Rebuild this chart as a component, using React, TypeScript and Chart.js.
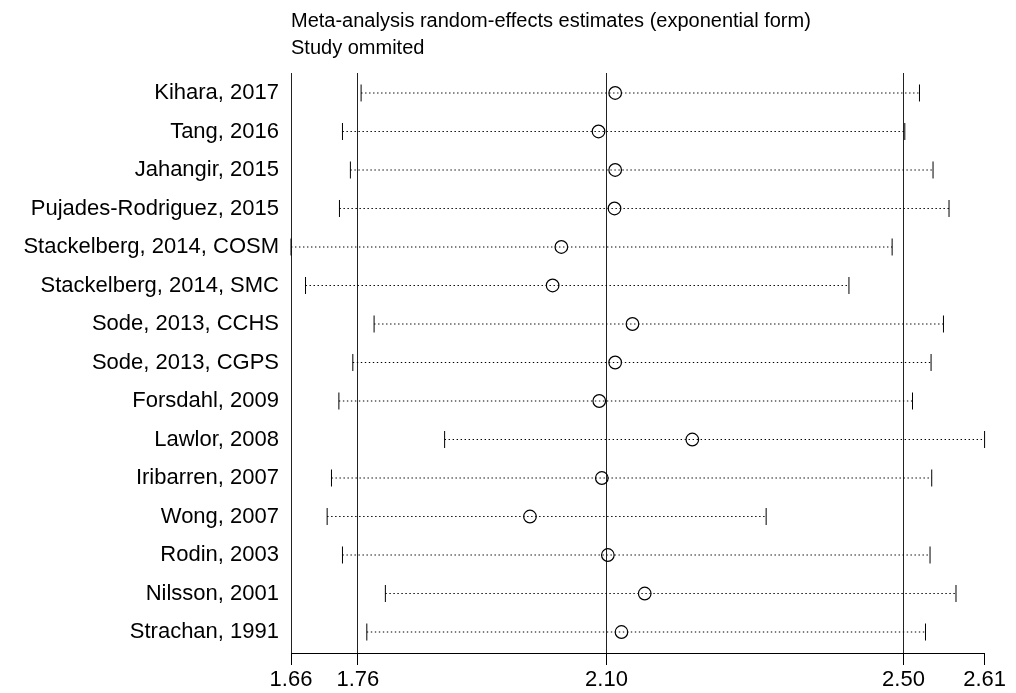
import React, { useEffect, useRef } from "react";
import { Chart, registerables } from "chart.js";

Chart.register(...registerables);

const titleLines = [
  "Meta-analysis random-effects estimates (exponential form)",
  "Study ommited",
];

const studies = [
  "Kihara, 2017",
  "Tang, 2016",
  "Jahangir, 2015",
  "Pujades-Rodriguez, 2015",
  "Stackelberg, 2014, COSM",
  "Stackelberg, 2014, SMC",
  "Sode, 2013, CCHS",
  "Sode, 2013, CGPS",
  "Forsdahl, 2009",
  "Lawlor, 2008",
  "Iribarren, 2007",
  "Wong, 2007",
  "Rodin, 2003",
  "Nilsson, 2001",
  "Strachan, 1991",
];

const estimates = [
  2.1069, 2.0842, 2.1069, 2.106, 2.0335, 2.0216, 2.1305, 2.1069, 2.0852,
  2.2121, 2.0887, 1.9907, 2.0969, 2.1472, 2.1155,
];

const lowerCI = [
  1.7604, 1.735, 1.7458, 1.7309, 1.6648, 1.6846, 1.7781, 1.7491, 1.7301,
  1.8743, 1.72, 1.7141, 1.735, 1.7935, 1.7682,
];

const upperCI = [
  2.5219, 2.5019, 2.5404, 2.5622, 2.4846, 2.4257, 2.5546, 2.5377, 2.5124,
  2.6107, 2.5386, 2.3128, 2.5363, 2.5717, 2.5301,
];

// axis ticks: min lower CI, overall lower CI, overall estimate, overall upper CI, max upper CI
const axisTicks = [1.6648, 1.7559, 2.0951, 2.5001, 2.6107];

const FONT = '"Liberation Sans", Arial, Helvetica, sans-serif';

export default function App() {
  const ref = useRef<HTMLCanvasElement | null>(null);

  useEffect(() => {
    if (!ref.current) return;

    const ciSets = studies.map((_, i) => ({
      type: "line" as const,
      data: [
        { x: lowerCI[i], y: i },
        { x: upperCI[i], y: i },
      ],
      showLine: true,
      borderColor: "#000",
      borderWidth: 1.2,
      borderDash: [1.4, 2.6],
      pointStyle: "line" as const,
      rotation: 90,
      pointRadius: 8.5,
      pointBorderColor: "#000",
      pointBorderWidth: 1,
      pointBackgroundColor: "#000",
      clip: false as any,
    }));

    const estSet = {
      type: "scatter" as const,
      data: estimates.map((v, i) => ({ x: v, y: i })),
      showLine: false,
      pointStyle: "circle" as const,
      pointRadius: 6.3,
      pointBorderWidth: 1.2,
      pointBorderColor: "#000",
      pointBackgroundColor: "rgba(0,0,0,0)",
      borderColor: "#000",
      backgroundColor: "rgba(0,0,0,0)",
      clip: false as any,
    };

    const titlePlugin = {
      id: "titleLines",
      afterDraw(chart: any) {
        const ctx = chart.ctx;
        ctx.save();
        ctx.fillStyle = "#000";
        ctx.font = `20px ${FONT}`;
        ctx.textAlign = "left";
        ctx.textBaseline = "alphabetic";
        ctx.fillText(titleLines[0], chart.chartArea.left, 19);
        ctx.fillText(titleLines[1], chart.chartArea.left, 46);
        ctx.restore();
      },
    };

    const chart = new Chart(ref.current, {
      type: "scatter",
      data: { datasets: [...ciSets, estSet] as any },
      options: {
        animation: false,
        responsive: false,
        maintainAspectRatio: false,
        layout: { padding: { top: 65, right: 21, left: 0, bottom: 0 } },
        plugins: {
          legend: { display: false },
          tooltip: { enabled: false },
          title: { display: false },
        },
        scales: {
          x: {
            type: "linear",
            min: axisTicks[0],
            max: axisTicks[axisTicks.length - 1],
            afterBuildTicks: (scale: any) => {
              scale.ticks = axisTicks.map((v) => ({ value: v }));
            },
            afterFit: (scale: any) => {
              scale.height = 40;
            },
            ticks: {
              autoSkip: false,
              maxRotation: 0,
              minRotation: 0,
              padding: 2,
              color: "#000",
              font: { family: FONT, size: 22 },
              callback: (v: any) => Number(v).toFixed(2),
            },
            grid: {
              display: true,
              drawOnChartArea: true,
              drawTicks: true,
              tickLength: 12,
              lineWidth: 1,
              color: (c: any) =>
                c.index === axisTicks.length - 1 ? "rgba(0,0,0,0)" : "#222",
              tickColor: "#000",
            },
            border: { display: true, color: "#000", width: 1 },
          },
          y: {
            type: "linear",
            reverse: true,
            min: -0.519,
            max: 14.545,
            afterBuildTicks: (scale: any) => {
              scale.ticks = studies.map((_, i) => ({ value: i }));
            },
            afterFit: (scale: any) => {
              scale.width = 283;
            },
            ticks: {
              autoSkip: false,
              padding: 12,
              color: "#000",
              font: { family: FONT, size: 22 },
              callback: (v: any) => studies[Math.round(Number(v))] ?? "",
            },
            grid: { display: false, drawTicks: false },
            border: { display: false },
          },
        },
      } as any,
      plugins: [titlePlugin],
    });

    return () => chart.destroy();
  }, []);

  return (
    <div style={{ width: 1000, height: 685 }}>
      <canvas
        ref={ref}
        width={1000}
        height={685}
        style={{ display: "block", width: 1000, height: 685 }}
      />
    </div>
  );
}
